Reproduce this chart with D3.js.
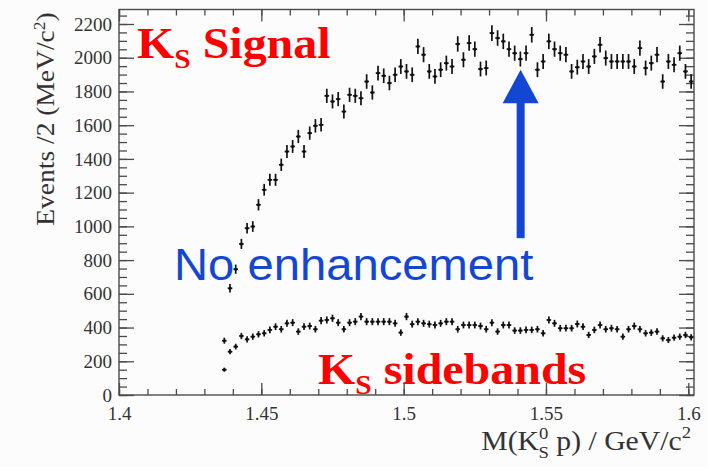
<!DOCTYPE html>
<html>
<head>
<meta charset="utf-8">
<script src="https://cdn.jsdelivr.net/npm/d3@7"></script>
<style>
  html, body { margin: 0; padding: 0; background: #fcfcfc; }
  svg { display: block; }
</style>
</head>
<body>
<svg id="chart" width="708" height="467"></svg>
<script>
// Histogram binning: 2 MeV bins, first filled bin starts at 1.436 GeV
const firstBinLowEdge = 1.436;
const binWidth = 0.002;

// K_S signal region, events per 2 MeV bin
const signalCounts = [
  150, 633, 746, 896, 989, 999, 1128, 1217, 1276, 1276,
  1365, 1444, 1474, 1533, 1444, 1553, 1596, 1602, 1774, 1741,
  1755, 1681, 1780, 1774, 1760, 1859, 1794, 1909, 1893, 1850,
  1899, 1948, 1919, 1899, 2067, 2018, 1919, 1889, 1929, 1968,
  1948, 2082, 1988, 2087, 2051, 1933, 1939, 2146, 2117, 2097,
  2051, 2027, 1992, 2027, 2136, 1929, 1978, 2097, 2051, 2027,
  2018, 1919, 1944, 1978, 1948, 2008, 2077, 1998, 1978, 1978,
  1978, 1978, 1948, 2057, 1939, 1968, 2018, 1859, 1978, 1958,
  2027, 1919, 1859
];

// K_S sideband region, events per 2 MeV bin
const sidebandCounts = [
  322, 257, 287, 350, 330, 346, 360, 366, 386, 405,
  390, 425, 429, 376, 405, 409, 390, 441, 445, 455,
  429, 390, 429, 435, 465, 435, 435, 435, 435, 435,
  425, 370, 465, 420, 435, 425, 420, 415, 425, 435,
  435, 390, 415, 415, 415, 409, 390, 429, 376, 415,
  415, 382, 382, 386, 386, 390, 366, 445, 425, 396,
  396, 396, 421, 405, 356, 386, 415, 390, 396, 390,
  346, 390, 409, 390, 366, 370, 376, 336, 326, 340,
  346, 356, 342
];

// Axis ticks
const xMajorTicks = [1.40, 1.45, 1.50, 1.55, 1.60];
const xMajorLabels = ["1.4", "1.45", "1.5", "1.55", "1.6"];
const xMinorTicks = d3.range(0, 21).map(k => +(1.40 + k * 0.01).toFixed(2));
const yMajorTicks = [0, 200, 400, 600, 800, 1000, 1200, 1400, 1600, 1800, 2000, 2200];
const yMinorTicks = d3.range(0, 46).map(k => k * 50);

// Annotation arrow (mass, events)
const arrowMass = 1.5411;
const arrowTail = 930;
const arrowHeadBase = 1730;
const arrowTip = 1928;

const svg = d3.select("#chart");
const frame = { left: 119, right: 694, top: 9.5, bottom: 395 };

const x = d3.scaleLinear().domain([1.40, 1.602]).range([frame.left, frame.right]);
const y = d3.scaleLinear().domain([0, 2286]).range([frame.bottom, frame.top]);

const axisColor = "#4a4a4a";
const labelColor = "#333";
const serif = "'Liberation Serif', 'Times New Roman', serif";

// Frame
svg.append("rect")
  .attr("x", frame.left).attr("y", frame.top)
  .attr("width", frame.right - frame.left).attr("height", frame.bottom - frame.top)
  .attr("fill", "none").attr("stroke", axisColor).attr("stroke-width", 1.4);

function styleAxis(g) {
  g.attr("font-family", null).attr("font-size", null);
  g.select(".domain").remove();
  g.selectAll(".tick line").attr("stroke", axisColor).attr("stroke-width", 1.3);
  g.selectAll(".tick text")
    .attr("fill", labelColor)
    .style("font-family", serif)
    .style("font-size", "19px");
}

// Bottom axis
svg.append("g").attr("transform", `translate(0,${frame.bottom})`)
  .call(d3.axisBottom(x).tickValues(xMinorTicks).tickSize(-6).tickFormat(""))
  .call(styleAxis);
svg.append("g").attr("transform", `translate(0,${frame.bottom})`)
  .call(d3.axisBottom(x).tickValues(xMajorTicks).tickSize(-12).tickPadding(12)
    .tickFormat((d, i) => xMajorLabels[i]))
  .call(styleAxis);

// Top axis (ticks only)
svg.append("g").attr("transform", `translate(0,${frame.top})`)
  .call(d3.axisTop(x).tickValues(xMinorTicks).tickSize(-6).tickFormat(""))
  .call(styleAxis);
svg.append("g").attr("transform", `translate(0,${frame.top})`)
  .call(d3.axisTop(x).tickValues(xMajorTicks).tickSize(-12).tickFormat(""))
  .call(styleAxis);

// Left axis
svg.append("g").attr("transform", `translate(${frame.left},0)`)
  .call(d3.axisLeft(y).tickValues(yMinorTicks).tickSize(-8).tickFormat(""))
  .call(styleAxis);
svg.append("g").attr("transform", `translate(${frame.left},0)`)
  .call(d3.axisLeft(y).tickValues(yMajorTicks).tickSize(-15).tickPadding(7)
    .tickFormat(d3.format("d")))
  .call(styleAxis);

// Right axis (ticks only)
svg.append("g").attr("transform", `translate(${frame.right},0)`)
  .call(d3.axisRight(y).tickValues(yMinorTicks).tickSize(-8).tickFormat(""))
  .call(styleAxis);
svg.append("g").attr("transform", `translate(${frame.right},0)`)
  .call(d3.axisRight(y).tickValues(yMajorTicks).tickSize(-15).tickFormat(""))
  .call(styleAxis);

// Axis titles
const yTitle = svg.append("text")
  .attr("transform", `translate(54,119) rotate(-90) scale(1.1,1)`)
  .attr("text-anchor", "middle")
  .attr("fill", labelColor)
  .style("font-family", serif)
  .style("font-size", "25px");
yTitle.append("tspan").text("Events /2 (MeV/c");
yTitle.append("tspan").attr("baseline-shift", "super").style("font-size", "16px").text("2");
yTitle.append("tspan").text(")");

const xTitle = svg.append("text")
  .attr("transform", `translate(691,450) scale(1.1,1)`)
  .attr("text-anchor", "end")
  .attr("fill", labelColor)
  .style("font-family", serif)
  .style("font-size", "27px");
xTitle.append("tspan").text("M(K");
xTitle.append("tspan").attr("dy", -11).style("font-size", "17px").text("0");
xTitle.append("tspan").attr("dx", -9).attr("dy", 19).style("font-size", "17px").text("S");
xTitle.append("tspan").attr("dy", -8).text(" p) / GeV/c");
xTitle.append("tspan").attr("dy", -12).style("font-size", "17px").text("2");

// Data points with statistical error bars
function drawPoints(counts, cls) {
  const pts = counts.map((n, i) => ({
    m: firstBinLowEdge + binWidth * (i + 0.5),
    n: n
  }));
  const g = svg.append("g").attr("class", cls)
    .attr("stroke", "#111").attr("stroke-width", 1.7).attr("fill", "#111");
  const p = g.selectAll("g").data(pts).join("g");
  p.append("line")
    .attr("x1", d => x(d.m)).attr("x2", d => x(d.m))
    .attr("y1", d => y(d.n - Math.sqrt(d.n))).attr("y2", d => y(d.n + Math.sqrt(d.n)));
  p.append("line")
    .attr("x1", d => x(d.m) - 2.3).attr("x2", d => x(d.m) + 2.3)
    .attr("y1", d => y(d.n)).attr("y2", d => y(d.n));
  p.append("circle")
    .attr("cx", d => x(d.m)).attr("cy", d => y(d.n)).attr("r", 1.5)
    .attr("stroke", "none");
}
drawPoints(sidebandCounts, "sideband");
drawPoints(signalCounts, "signal");

// Region labels
const red = "#ff0000";
function regionLabel(px, py, word) {
  const t = svg.append("text")
    .attr("transform", `translate(${px},${py}) scale(1.09,1)`)
    .attr("fill", red)
    .style("font-family", serif)
    .style("font-weight", "bold")
    .style("font-size", "44px");
  t.append("tspan").text("K");
  t.append("tspan").attr("dy", 10).style("font-size", "27px").text("S");
  t.append("tspan").attr("dy", -10).text(" " + word);
}
regionLabel(137, 58, "Signal");
regionLabel(318, 384, "sidebands");

const blue = "#1446d4";
svg.append("text")
  .attr("transform", "translate(174,280) scale(1.085,1)")
  .attr("fill", blue)
  .style("font-family", "'Liberation Sans', Arial, sans-serif")
  .style("font-size", "43.5px")
  .text("No enhancement");

// Arrow pointing at the expected mass region
const ax = x(arrowMass);
svg.append("rect")
  .attr("x", ax - 4).attr("width", 8)
  .attr("y", y(arrowHeadBase) - 1).attr("height", y(arrowTail) - y(arrowHeadBase) + 1)
  .attr("fill", blue);
svg.append("path")
  .attr("d", `M${ax - 18},${y(arrowHeadBase)} L${ax + 18},${y(arrowHeadBase)} L${ax},${y(arrowTip)} Z`)
  .attr("fill", blue);
</script>
</body>
</html>
